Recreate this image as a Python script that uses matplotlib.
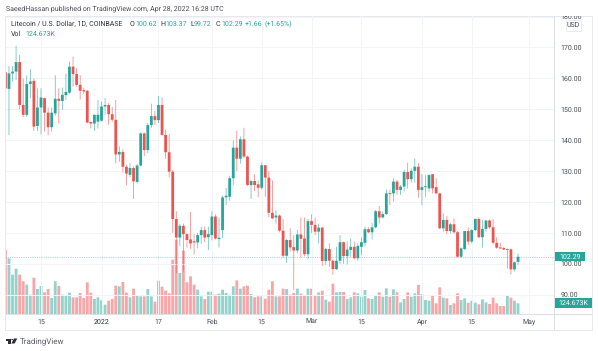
import matplotlib
matplotlib.use("Agg")
import matplotlib.pyplot as plt
import matplotlib.dates as mdates
import numpy as np
import pandas as pd
from matplotlib.patches import Polygon, Rectangle, Circle
from matplotlib.transforms import Bbox

# Daily LTC/USD candles
dates = pd.date_range("2021-12-05", periods=145, freq="D")

opens = [162.0, 156.6, 161.6, 162.2, 165.3, 151.4, 148.2, 158.2, 159.2, 144.6,
         150.6, 153.6, 148.9, 144.2, 148.7, 153.4, 152.7, 154.6, 155.4, 163.8,
         161.4, 157.9, 156.2, 156.0, 145.9, 145.4, 146.0, 146.3, 150.9, 151.4,
         148.4, 146.6, 135.4, 136.2, 131.4, 128.8, 131.0, 126.5, 131.8, 142.2,
         136.8, 144.9, 147.8, 146.5, 151.4, 141.7, 136.1, 129.8, 114.5, 108.5,
         112.3, 109.6, 107.9, 107.3, 106.9, 109.3, 110.9, 108.6, 109.3, 115.3,
         108.0, 110.9, 121.5, 121.7, 127.7, 137.6, 134.0, 140.3, 134.7, 125.5,
         126.8, 125.7, 124.6, 131.9, 127.9, 116.5, 115.0, 115.6, 110.7, 102.6,
         107.7, 105.4, 104.3, 109.5, 108.2, 103.1, 113.8, 112.6, 110.4, 111.7,
         100.9, 104.8, 101.0, 98.3, 101.0, 107.0, 102.5, 104.5, 105.5, 101.8,
         105.5, 106.8, 111.2, 110.2, 111.8, 117.0, 115.0, 116.1, 122.8, 122.8,
         126.6, 123.9, 125.0, 129.7, 127.4, 130.1, 131.4, 123.9, 124.8, 124.4,
         129.0, 124.8, 122.8, 111.5, 114.2, 110.6, 112.8, 110.2, 102.3, 104.8,
         110.6, 107.2, 110.9, 114.5, 108.6, 111.3, 114.0, 111.8, 106.8, 105.3,
         105.1, 104.5, 104.7, 98.2, 100.62]
closes = [156.8, 161.6, 162.2, 165.3, 151.4, 148.2, 158.2, 159.0, 144.4, 150.6,
          153.8, 148.9, 144.2, 148.9, 153.4, 152.7, 154.7, 155.6, 163.8, 161.4,
          157.9, 156.0, 155.8, 145.7, 145.4, 148.2, 148.2, 150.9, 151.4, 148.4,
          146.6, 135.4, 136.2, 131.4, 129.2, 131.0, 126.7, 131.8, 142.2, 136.8,
          144.9, 147.8, 146.5, 151.4, 141.7, 136.1, 129.8, 114.5, 108.5, 112.3,
          109.6, 107.7, 106.6, 106.9, 109.3, 110.9, 108.5, 109.6, 115.3, 108.2,
          108.4, 121.5, 122.0, 127.7, 137.6, 134.0, 140.3, 134.7, 125.5, 126.8,
          125.5, 124.6, 131.9, 127.9, 116.5, 114.7, 115.6, 110.7, 102.6, 107.7,
          105.3, 104.3, 109.5, 108.1, 103.1, 113.8, 112.6, 110.4, 111.7, 100.9,
          104.8, 101.0, 98.3, 101.0, 107.0, 102.5, 104.6, 105.5, 101.8, 105.8,
          107.0, 111.2, 110.2, 111.8, 117.0, 115.0, 116.1, 122.8, 122.6, 126.6,
          123.9, 125.0, 129.7, 127.4, 130.1, 131.4, 123.9, 124.8, 124.9, 128.7,
          124.4, 122.8, 111.5, 114.2, 110.6, 112.8, 110.2, 102.3, 105.0, 110.6,
          107.2, 110.9, 114.5, 108.6, 111.3, 114.0, 111.8, 106.8, 105.2, 105.0,
          104.6, 104.8, 98.2, 100.5, 102.29]
highs = [165.4, 164.0, 164.0, 170.5, 167.6, 160.0, 161.0, 163.0, 160.0, 156.8,
         156.8, 153.8, 150.6, 150.6, 161.0, 156.8, 157.0, 161.6, 165.4, 167.0,
         163.3, 161.0, 157.0, 156.2, 146.0, 148.4, 153.0, 152.5, 153.6, 152.0,
         150.8, 153.0, 138.0, 137.0, 132.0, 132.5, 131.5, 132.3, 142.5, 142.5,
         145.6, 151.8, 149.5, 154.3, 153.8, 143.5, 142.0, 130.4, 117.0, 112.9,
         113.0, 110.0, 116.8, 109.6, 110.0, 112.0, 112.0, 112.0, 117.0, 116.0,
         115.0, 122.0, 124.5, 128.5, 140.0, 143.0, 141.2, 144.0, 135.0, 127.0,
         129.0, 127.0, 132.8, 132.0, 130.0, 127.0, 117.3, 116.0, 114.5, 108.0,
         111.5, 109.3, 111.0, 115.0, 115.0, 114.5, 116.0, 115.0, 113.0, 112.0,
         105.2, 106.6, 101.2, 105.5, 109.3, 107.2, 107.2, 108.2, 107.2, 106.6,
         108.6, 112.0, 111.8, 113.3, 117.4, 118.7, 116.9, 124.0, 124.0, 127.7,
         127.1, 125.5, 130.4, 132.7, 130.9, 134.1, 132.7, 129.0, 128.7, 129.0,
         129.1, 127.7, 123.0, 116.3, 115.5, 113.2, 114.7, 110.6, 105.3, 110.6,
         111.8, 111.2, 114.7, 115.0, 114.2, 114.2, 114.4, 114.5, 108.6, 106.8,
         105.5, 104.9, 104.9, 100.7, 103.37]
lows = [148.7, 141.7, 159.0, 159.5, 150.0, 147.5, 147.5, 153.5, 143.0, 143.0,
        141.9, 142.8, 141.6, 142.8, 148.0, 145.5, 149.8, 153.0, 155.0, 157.3,
        157.3, 153.2, 155.0, 145.5, 143.8, 143.0, 143.8, 146.0, 148.2, 145.0,
        146.0, 132.5, 133.0, 129.5, 125.4, 128.0, 121.0, 126.0, 131.6, 134.8,
        135.8, 144.0, 145.0, 145.5, 141.5, 134.0, 128.0, 110.0, 97.0, 105.7,
        97.5, 105.3, 104.8, 103.0, 105.0, 106.5, 107.0, 104.5, 107.6, 107.9,
        105.3, 108.4, 119.0, 120.5, 125.5, 130.0, 132.4, 134.2, 125.2, 121.0,
        123.5, 121.5, 124.0, 121.7, 115.0, 114.5, 113.0, 110.2, 102.0, 100.3,
        104.0, 91.5, 103.4, 102.0, 102.4, 101.4, 110.0, 109.3, 106.6, 99.3,
        99.6, 99.0, 96.4, 98.0, 100.0, 100.0, 99.8, 102.3, 101.4, 101.0,
        102.8, 105.8, 109.9, 107.9, 111.5, 113.0, 114.7, 115.8, 119.0, 120.1,
        122.3, 122.3, 123.4, 124.4, 126.3, 126.3, 121.4, 119.0, 121.7, 123.3,
        122.8, 122.6, 111.2, 110.4, 109.6, 109.8, 109.8, 102.1, 101.8, 104.5,
        106.0, 106.6, 110.6, 108.2, 105.3, 110.4, 111.3, 106.3, 104.9, 104.8,
        104.5, 98.5, 96.6, 97.5, 99.72]
volumes_k = [751, 650, 459, 529, 459, 382, 343, 226, 424, 292,
             327, 253, 292, 187, 382, 327, 226, 214, 249, 195,
             195, 245, 187, 370, 249, 175, 195, 160, 109, 156,
             175, 331, 323, 374, 249, 195, 296, 214, 206, 206,
             292, 206, 144, 389, 319, 273, 241, 635, 868, 479,
             740, 370, 440, 343, 284, 206, 175, 261, 261, 226,
             237, 284, 245, 226, 323, 393, 296, 323, 331, 234,
             195, 206, 206, 179, 284, 382, 206, 206, 296, 292,
             226, 245, 296, 237, 214, 296, 296, 218, 253, 273,
             167, 144, 354, 253, 257, 257, 175, 195, 253, 241,
             202, 280, 183, 175, 222, 253, 202, 300, 202, 288,
             253, 136, 175, 253, 202, 241, 339, 234, 164, 156,
             222, 125, 311, 191, 183, 105, 125, 241, 164, 183,
             132, 156, 132, 113, 171, 136, 117, 191, 125, 93,
             93, 210, 191, 156, 124.673]

price_ticks = [90, 100, 110, 120, 130, 140, 150, 160, 170, 180]
date_ticks = ["2021-12-15", "2022-01-01", "2022-01-17", "2022-02-01", "2022-02-15",
              "2022-03-01", "2022-03-15", "2022-04-01", "2022-04-15", "2022-05-01"]
date_labels = ["15", "2022", "17", "Feb", "15", "Mar", "15", "Apr", "15", "May"]

last_price = 102.29
last_volume = 124.673

UP = "#26a69a"
DOWN = "#ef5350"
UP_VOL = "#93d3cc"
DOWN_VOL = "#faa5a8"
GRID = "#f3f4f8"
BORDER = "#e6e8ee"
TEXT = "#4a4d57"
FONT = "Roboto"

W, H = 598, 351
plt.rcParams["font.family"] = [FONT, "DejaVu Sans"]
# widths jump around with hinting at these tiny sizes
plt.rcParams["text.hinting"] = "no_hinting"
plt.rcParams["text.hinting_factor"] = 1


def fx(x):
    return x / W


def fy(y):
    return 1 - y / H


def put_text(x, y, s, color=TEXT, size=5.0, **kw):
    kw.setdefault("va", "center")
    return fig.text(fx(x), fy(y), s, color=color, fontsize=size, **kw)


def frame_rect(x0, y0, x1, y1, color):
    fig.add_artist(Rectangle((fx(x0), fy(y1)), (x1 - x0) / W, (y1 - y0) / H,
                             transform=fig.transFigure, facecolor=color, edgecolor="none"))


fig = plt.figure(figsize=(W / 100, H / 100), dpi=100, facecolor="white")

# main pane spans x 6-554, y 16-314 in image pixels
ax = fig.add_axes([fx(6), fy(314), 548 / W, 298 / H])
ax_vol = ax.twinx()
ax.set_zorder(ax_vol.get_zorder() + 1)
ax.patch.set_visible(False)

x = mdates.date2num(dates)
ups = np.array(closes) >= np.array(opens)

vol_bars = ax_vol.bar(x, volumes_k, width=0.8, color=[UP_VOL if u else DOWN_VOL for u in ups], linewidth=0, zorder=2)
ax_vol.set_ylim(0, 298 * 11.68)
ax_vol.set_yticks([])

colors = [UP if u else DOWN for u in ups]
wicks = ax.vlines(x, lows, highs, colors=colors, linewidth=0.55, alpha=0.7, zorder=3)
wicks.set_snap(False)
body_low = np.minimum(opens, closes)
body_h = np.maximum(np.abs(np.array(closes) - np.array(opens)), 0.3)
bodies = ax.bar(x, body_h, bottom=body_low, width=0.78, color=colors, linewidth=0, zorder=4)

# pixel snapping makes the bars uneven at this narrow spacing
for b in list(vol_bars) + list(bodies):
    b.set_snap(False)

ax.axhline(last_price, color=UP, linewidth=0.5, linestyle=(0, (1, 1.6)), alpha=0.75, zorder=2)

ax.set_xlim(x[0] + 0.6 / 3.56, x[0] + 548.6 / 3.56)
ax.set_ylim(170 - (314 - 47.5) / 3.09, 170 + (47.5 - 16) / 3.09)

tick_x = mdates.date2num(pd.to_datetime(date_ticks))
ax.set_xticks(tick_x)
ax.set_xticklabels(date_labels)
ax.set_yticks(price_ticks)
ax.set_yticklabels([f"{p:.2f}" for p in price_ticks])
ax.yaxis.tick_right()
ax.tick_params(axis="both", length=0, labelsize=5.0, labelcolor=TEXT)
ax.tick_params(axis="x", pad=3.6)
ax.tick_params(axis="y", pad=4.6)
ax.grid(True, color=GRID, linewidth=0.7)
ax.set_axisbelow(True)
for s in list(ax.spines.values()) + list(ax_vol.spines.values()):
    s.set_visible(False)

for lab in ax.get_xticklabels():
    if lab.get_text() == "2022":
        lab.set_color("#2a2e39")
# the top label is cut by the edge of the chart frame
for lab in ax.get_yticklabels():
    if lab.get_text() == "180.00":
        lab.set_clip_box(Bbox([[0, 0], [W, H - 16]]))
        lab.set_clip_on(True)

# frame and axis lines
frame_rect(4.5, 15.5, 592.5, 16.5, BORDER)
frame_rect(4.5, 329.5, 592.5, 331, BORDER)
frame_rect(4.5, 15.5, 5.5, 331, BORDER)
frame_rect(591.5, 15.5, 592.5, 331, BORDER)
frame_rect(553.7, 16, 554.5, 330, "#dcdfe6")
frame_rect(6, 313.8, 592, 314.6, "#dcdfe6")

# header and legend
put_text(6, 8.8, "SaeedHassan published on TradingView.com, Apr 28, 2022 16:28 UTC", size=5.0)
put_text(11, 24.3, "Litecoin / U.S. Dollar, 1D, COINBASE", color="#30333d", size=5.3)
for px_, s, c in [(130, "O", "#30333d"), (135, "100.62", UP), (160, "H", "#30333d"),
                  (165, "103.37", UP), (190, "L", "#30333d"), (194, "99.72", UP),
                  (216, "C", "#30333d"), (221, "102.29", UP), (245, "+1.66", UP),
                  (265, "(+1.65%)", UP)]:
    put_text(px_, 24.3, s, color=c, size=5.3)
put_text(11, 34.3, "Vol", color="#30333d", size=5.3)
put_text(25, 34.3, "124.673K", color=UP, size=5.3)

# currency box
fig.add_artist(Rectangle((fx(565.5), fy(30.5)), 15.5 / W, 10.5 / H, transform=fig.transFigure,
                         facecolor="white", edgecolor=BORDER, linewidth=0.6, zorder=5))
put_text(573.3, 25.3, "USD", ha="center", zorder=6)

# last value badges
frame_rect(554.5, 252, 585, 261.3, UP)
put_text(570, 256.7, f"{last_price:.2f}", color="white", ha="center", zorder=6)
frame_rect(554.5, 298, 592, 308, UP)
put_text(573, 303, f"{last_volume:.3f}K", color="white", ha="center", zorder=6)

# TradingView logo, small dark T and V
logo = "#2a2e39"
fig.add_artist(Polygon([(fx(6), fy(338.5)), (fx(11), fy(338.5)), (fx(11), fy(343.5)),
                        (fx(8.3), fy(343.5)), (fx(8.3), fy(340.5)), (fx(6), fy(340.5))],
                       transform=fig.transFigure, facecolor=logo, edgecolor="none"))
fig.add_artist(Circle((fx(12.2), fy(339.5)), 1.0 / W, transform=fig.transFigure,
                      facecolor=logo, edgecolor="none"))
fig.add_artist(Polygon([(fx(14), fy(338.5)), (fx(17.3), fy(338.5)), (fx(14.6), fy(343.5)),
                        (fx(11.4), fy(343.5))],
                       transform=fig.transFigure, facecolor=logo, edgecolor="none"))
put_text(19.5, 341, "TradingView", color="#5d606b", size=5.5)

fig.savefig("out.png", dpi=100)
